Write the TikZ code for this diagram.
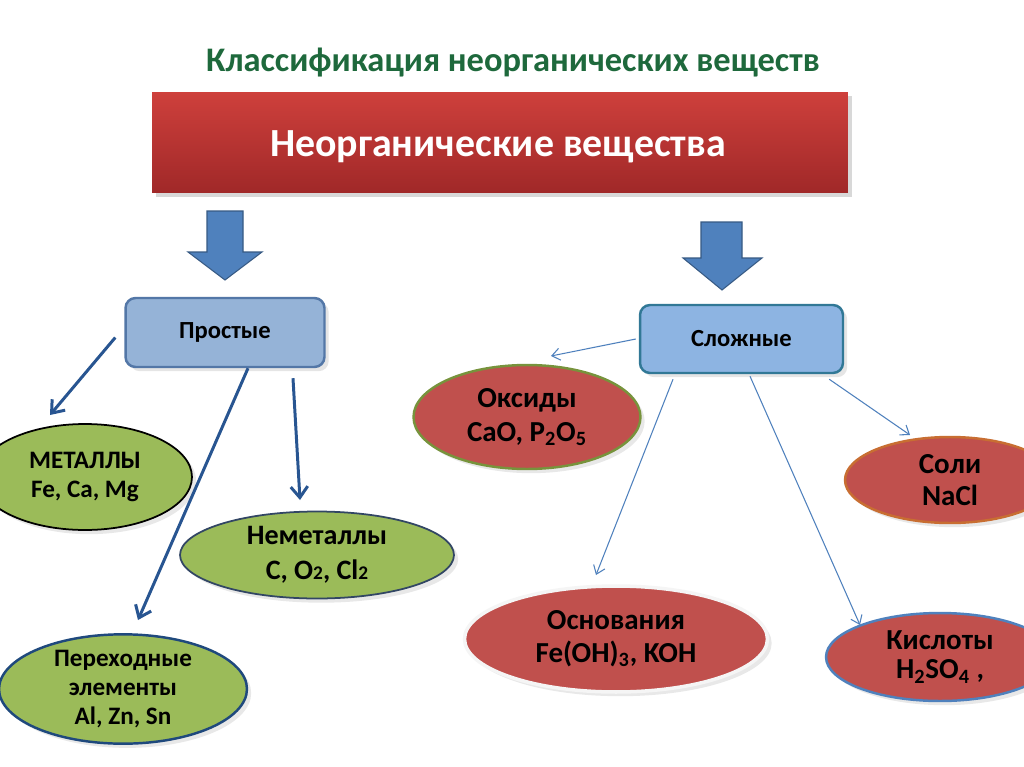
\documentclass[tikz,border=0pt]{standalone}
\usepackage{fontspec}
\setmainfont{Carlito}
\usetikzlibrary{arrows.meta,shadows,shapes.geometric}
\definecolor{titlegreen}{RGB}{30,105,60}
\definecolor{boxred}{RGB}{192,80,77}
\definecolor{arrowblue}{RGB}{79,129,189}
\definecolor{darkblue}{RGB}{40,85,145}
\definecolor{lightblue}{RGB}{149,179,215}
\definecolor{leafgreen}{RGB}{155,187,89}
\newcommand{\smalldigit}[1]{{\fontsize{11}{11}\selectfont #1}}
\begin{document}
\begin{tikzpicture}[x=0.02cm, y=-0.02cm,
        every node/.style={font=\bfseries, align=center, inner sep=0pt},
        title/.style={text=titlegreen, font=\bfseries\fontsize{19.6}{23}\selectfont},
        main box/.style={rectangle, top color={rgb,255:red,206;green,64;blue,60}, bottom color={rgb,255:red,160;green,40;blue,40},
            minimum width=13.92cm, minimum height=2.02cm, drop shadow={opacity=0.3}},
        group box/.style={rectangle, rounded corners=0.2cm, fill=lightblue, draw=darkblue!80, line width=1.4pt,
            minimum width=3.98cm, minimum height=1.38cm, font=\bfseries\fontsize{14}{17}\selectfont, drop shadow={opacity=0.2}},
        green leaf/.style={ellipse, fill=leafgreen, line width=1pt, font=\bfseries\fontsize{14.3}{16.4}\selectfont, drop shadow={opacity=0.18}},
        red leaf/.style={ellipse, fill=boxred, line width=1.4pt, font=\bfseries\fontsize{16.5}{18.5}\selectfont, drop shadow={opacity=0.18}},
        block arrow/.style={fill=arrowblue, draw=arrowblue!70!black, line width=0.6pt},
        thick arrow/.style={draw=darkblue, line width=1.7pt, -{Straight Barb[length=0.22cm, width=0.34cm]}},
        thin arrow/.style={draw=arrowblue, line width=0.6pt, -{Straight Barb[length=0.16cm, width=0.24cm]}},
    ]
	\useasboundingbox (0,0) rectangle (1024,767);
	\clip (0,0) rectangle (1024,767);
	\fill[white] (0,0) rectangle (1024,767);
	\node[title] (title) at (513,63) {Классификация неорганических веществ};
	\node[main box] (box_main) at (500,142.5) {};
	\node[text=white, font=\bfseries\fontsize{22.7}{26}\selectfont] (main_text) at (498,147) {Неорганические вещества};
	\draw[block arrow] (207,211) -- (243,211) -- (243,252) -- (262,252) -- (225,280) -- (188,252) -- (207,252) -- cycle;
	\draw[block arrow] (701,222) -- (742,222) -- (742,258) -- (762,258) -- (722,290) -- (683,258) -- (701,258) -- cycle;
	\node[group box] (box_simple) at (225,332.5) {Простые};
	\node[group box, draw={rgb,255:red,49;green,120;blue,150}, fill={rgb,255:red,141;green,180;blue,226}, minimum width=4.06cm, minimum height=1.36cm] (box_complex) at (741.5,339) {Сложные};
	\node[green leaf, draw=black, minimum width=4.28cm, minimum height=2.12cm] (e_metal) at (85,477) {МЕТАЛЛЫ\\Fe, Ca, Mg};
	\node[green leaf, draw={rgb,255:red,50;green,70;blue,100}, minimum width=5.48cm, minimum height=1.74cm, font=\bfseries\fontsize{16}{19.8}\selectfont] (e_nonmetal) at (317,555) {Неметаллы\\C, O\smalldigit{2}, Cl\smalldigit{2}};
	\node[green leaf, draw={rgb,255:red,31;green,73;blue,125}, line width=1.4pt, minimum width=4.96cm, minimum height=2.16cm] (e_trans) at (123,689) {Переходные\\элементы\\Al, Zn, Sn};
	\node[red leaf, draw={rgb,255:red,119;green,147;blue,60}, minimum width=4.54cm, minimum height=2.08cm, font=\bfseries\fontsize{16.5}{19.3}\selectfont] (e_oxide) at (527,417) {Оксиды\\CaO, P\textsubscript{2}O\textsubscript{5}};
	\node[red leaf, draw={rgb,255:red,200;green,110;blue,50}, minimum width=4.2cm, minimum height=1.72cm] (e_salt) at (950,480) {Соли\\NaCl};
	\node[red leaf, draw=white!92!gray, line width=2pt, minimum width=6.06cm, minimum height=2.12cm] (e_base) at (616,639) {Основания\\Fe(OH)\textsubscript{3}, KOH};
	\node[red leaf, draw=arrowblue, minimum width=4.56cm, minimum height=1.76cm, font=\bfseries\fontsize{16.5}{16.5}\selectfont] (e_acid) at (940,657) {Кислоты\\H\textsubscript{2}SO\textsubscript{4} ,};
	\coordinate (t_metal) at (50,415);
	\coordinate (t_trans) at (138,620);
	\coordinate (t_nonmetal) at (300,500);
	\coordinate (t_oxide) at (551,356);
	\coordinate (t_base) at (596,575);
	\coordinate (t_acid) at (860,625);
	\coordinate (t_salt) at (910,435);
	\draw[thick arrow] ([xshift=-0.18cm, yshift=-0.1cm]box_simple.west) -- (t_metal);
	\draw[thick arrow] ([xshift=0.46cm]box_simple.south) -- (t_trans);
	\draw[thick arrow] ([xshift=1.36cm, yshift=-0.2cm]box_simple.south) -- (t_nonmetal);
	\draw[thin arrow] ([xshift=-0.06cm]box_complex.west) -- (t_oxide);
	\draw[thin arrow] ([xshift=-1.37cm, yshift=-0.1cm]box_complex.south) -- (t_base);
	\draw[thin arrow] ([xshift=0.17cm, yshift=-0.04cm]box_complex.south) -- (t_acid);
	\draw[thin arrow] ([xshift=-0.3cm, yshift=-0.1cm]box_complex.south east) -- (t_salt);
\end{tikzpicture}
\end{document}
